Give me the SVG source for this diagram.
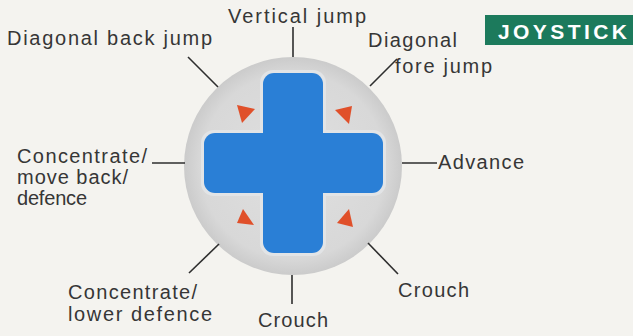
<svg xmlns="http://www.w3.org/2000/svg" width="633" height="336" viewBox="0 0 633 336">
<defs>
<style>
.lbl{font-family:"Liberation Sans",Arial,sans-serif;font-size:20px;fill:#363636;}
.ln{stroke:#2e2e2e;stroke-width:1.6;fill:none;}
.tri{fill:#e0502a;}
.pad{fill:#2a7fd6;}
</style>
<radialGradient id="g" cx="0.5" cy="0.5" r="0.5">
<stop offset="0" stop-color="#e0e0e0"/>
<stop offset="0.85" stop-color="#d8d8d8"/>
<stop offset="1" stop-color="#cbcbcb"/>
</radialGradient>
</defs>
<rect width="633" height="336" fill="#f4f3ef"/>
<g id="joystick">
<circle cx="293" cy="166" r="109" fill="url(#g)"/>
<rect x="260" y="70" width="66" height="186" rx="13" fill="#e2e4e6"/>
<rect x="201" y="130" width="185" height="66" rx="13" fill="#e2e4e6"/>
<rect class="pad" x="263" y="73" width="60" height="180" rx="11"/>
<rect class="pad" x="204" y="133" width="179" height="60" rx="11"/>
<polygon class="tri" points="237,105 255,109 242,123"/>
<polygon class="tri" points="335,110 352,106 349,124"/>
<polygon class="tri" points="237,223 243,209 254,225"/>
<polygon class="tri" points="337,223 349,209 353,227"/>
</g>
<g id="connectors">
<line class="ln" x1="293" y1="27" x2="293" y2="57"/>
<line class="ln" x1="188" y1="57" x2="218" y2="87"/>
<line class="ln" x1="370" y1="86" x2="397" y2="59"/>
<line class="ln" x1="152" y1="163" x2="185" y2="163"/>
<line class="ln" x1="402" y1="163" x2="437" y2="163"/>
<line class="ln" x1="189" y1="273" x2="219" y2="244"/>
<line class="ln" x1="292" y1="275" x2="292" y2="304"/>
<line class="ln" x1="368" y1="243" x2="398" y2="274"/>
</g>
<g id="label-vertical-jump"><text class="lbl" x="228" y="23" textLength="138" lengthAdjust="spacing">Vertical jump</text></g>
<g id="label-diag-back"><text class="lbl" x="7" y="45" textLength="205" lengthAdjust="spacing">Diagonal back jump</text></g>
<g id="label-diag-fore">
<text class="lbl" x="368" y="47" textLength="89" lengthAdjust="spacing">Diagonal</text>
<text class="lbl" x="395" y="73" textLength="97" lengthAdjust="spacing">fore jump</text>
</g>
<g id="label-back">
<text class="lbl" x="17" y="163" textLength="130" lengthAdjust="spacing">Concentrate/</text>
<text class="lbl" x="17" y="184" textLength="111" lengthAdjust="spacing">move back/</text>
<text class="lbl" x="17" y="205" textLength="70" lengthAdjust="spacing">defence</text>
</g>
<g id="label-advance"><text class="lbl" x="438" y="169" textLength="86" lengthAdjust="spacing">Advance</text></g>
<g id="label-lower">
<text class="lbl" x="68" y="299" textLength="129" lengthAdjust="spacing">Concentrate/</text>
<text class="lbl" x="68" y="321" textLength="144" lengthAdjust="spacing">lower defence</text>
</g>
<g id="label-crouch-down"><text class="lbl" x="258" y="327" textLength="70" lengthAdjust="spacing">Crouch</text></g>
<g id="label-crouch-diag"><text class="lbl" x="398" y="297" textLength="71" lengthAdjust="spacing">Crouch</text></g>
<g id="title">
<rect x="485" y="15" width="148" height="30" fill="#1c7a5c"/>
<text x="498" y="39" textLength="129" lengthAdjust="spacing" style="font-family:'Liberation Sans',Arial,sans-serif;font-size:21px;font-weight:bold;fill:#ffffff;">JOYSTICK</text>
</g>
</svg>
